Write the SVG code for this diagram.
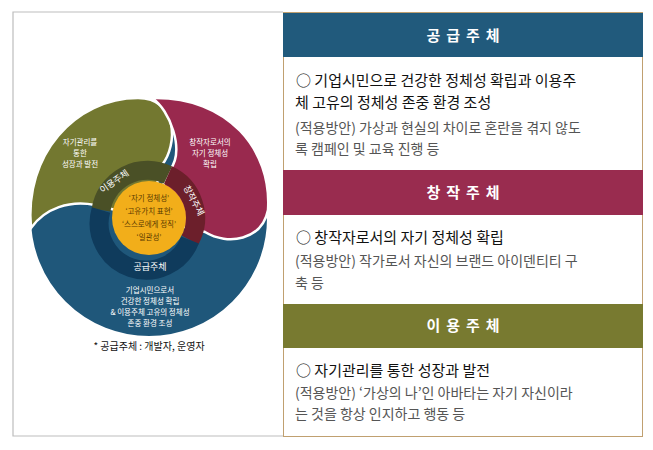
<svg xmlns="http://www.w3.org/2000/svg" width="653" height="450" viewBox="0 0 653 450">
<style>
text{font-family:"Noto Sans CJK KR","Noto Sans",sans-serif}
.hd{fill:#fff;font-size:15px;font-weight:bold;text-anchor:middle;letter-spacing:6px}
.m{fill:#111;font-size:15px}
.g{fill:#555;font-size:14px}
.w{fill:#fff;font-size:7.5px;text-anchor:middle}
.y{fill:#5a3a00;font-size:7.5px;text-anchor:middle}
.rl{fill:#fff;font-size:9px;text-anchor:middle}
</style>
<rect x="0" y="0" width="653" height="450" fill="#fff"/>
<path d="M283,12 H13 V436 H283" fill="none" stroke="#bdbdbd" stroke-width="1.2"/>
<g id="diagram">
<circle cx="149" cy="218" r="119" fill="#1f577a" stroke="#fff" stroke-width="2"/>
<path d="M31,228 C24,155 75,98 138,98 C178,98 178,145 162,165 L148,218 L95,205 C70,200 45,208 31,228 Z" fill="#737830" stroke="#fff" stroke-width="2.5"/>
<path d="M152,98 C228,96 272,150 268,210 C262,240 228,246 205,232 L148,218 L170,170 C185,150 170,110 152,98 Z" fill="#99294e" stroke="#fff" stroke-width="2.5"/>
<path d="M101,210 A47,47 0 0 1 168,175" fill="none" stroke="#4a5026" stroke-width="19"/>
<path d="M168,175 A47,47 0 0 1 190,240" fill="none" stroke="#6c1f2b" stroke-width="19"/>
<path d="M190,240 A47,47 0 0 1 101,210" fill="none" stroke="#0f3b5c" stroke-width="19"/>
<circle cx="149" cy="218" r="37" fill="#f2ae1a"/>
<text class="y" x="149" y="201">‘자기 정체성’</text>
<text class="y" x="149" y="214">‘고유가치 표현’</text>
<text class="y" x="149" y="227">‘스스로에게 정직’</text>
<text class="y" x="149" y="240">‘일관성’</text>
<text class="rl" transform="translate(116,184) rotate(-35)">이용주체</text>
<text class="rl" transform="translate(191,202) rotate(62)">창작주체</text>
<text class="rl" x="150" y="270">공급주체</text>
<text class="w" x="80" y="145">자기관리를</text>
<text class="w" x="80" y="156">통한</text>
<text class="w" x="80" y="167">성장과 발전</text>
<text class="w" x="210" y="145">창작자로서의</text>
<text class="w" x="210" y="156">자기 정체성</text>
<text class="w" x="210" y="167">확립</text>
<text class="w" x="150" y="293">기업시민으로서</text>
<text class="w" x="150" y="304">건강한 정체성 확립</text>
<text class="w" x="150" y="315">&amp; 이용주체 고유의 정체성</text>
<text class="w" x="150" y="326">존중 환경 조성</text>
<text x="149" y="350" fill="#111" font-size="10" text-anchor="middle">* 공급주체 : 개발자, 운영자</text>
</g>
<g id="table">
<rect x="283.5" y="12.5" width="359" height="424" fill="none" stroke="#c0a070" stroke-width="1"/>
<rect x="283" y="13" width="360" height="44" fill="#215a7c"/>
<text class="hd" x="466" y="41">공급주체</text>
<text class="m" x="296" y="86">○ 기업시민으로 건강한 정체성 확립과 이용주</text>
<text class="m" x="295" y="108">체 고유의 정체성 존중 환경 조성</text>
<text class="g" x="295" y="133">(적용방안) 가상과 현실의 차이로 혼란을 겪지 않도</text>
<text class="g" x="295" y="154">록 캠페인 및 교육 진행 등</text>
<rect x="283" y="170" width="360" height="45" fill="#992c4f"/>
<text class="hd" x="466" y="198">창작주체</text>
<text class="m" x="296" y="243">○ 창작자로서의 자기 정체성 확립</text>
<text class="g" x="295" y="266">(적용방안) 작가로서 자신의 브랜드 아이덴티티 구</text>
<text class="g" x="295" y="288">축 등</text>
<rect x="283" y="304" width="360" height="44" fill="#787a30"/>
<text class="hd" x="466" y="331">이용주체</text>
<text class="m" x="296" y="376">○ 자기관리를 통한 성장과 발전</text>
<text class="g" x="295" y="398">(적용방안) ‘가상의 나’인 아바타는 자기 자신이라</text>
<text class="g" x="295" y="419">는 것을 항상 인지하고 행동 등</text>
</g>
</svg>
